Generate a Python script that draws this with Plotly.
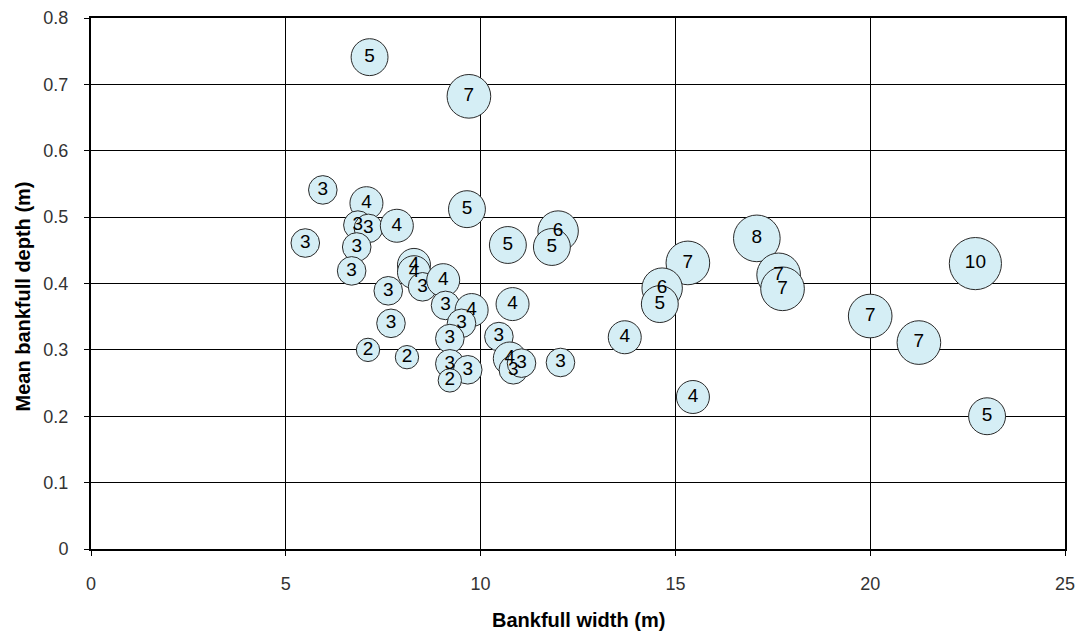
import plotly.graph_objects as go

# Bankfull width (m)
width_m = [7.15, 9.7, 5.95, 7.07, 6.85, 7.12, 7.85, 5.5, 6.82, 6.69,
           9.65, 7.63, 8.29, 8.29, 8.51, 9.04, 9.10, 9.77, 9.51, 9.21,
           9.21, 9.67, 9.21, 7.7, 7.11, 8.11, 10.7, 11.99, 11.83, 10.82,
           10.47, 10.75, 10.84, 11.05, 12.05, 13.7, 15.32, 14.66, 14.6, 15.45,
           17.09, 17.65, 17.75, 20.0, 21.25, 22.7, 23.0]
# Mean bankfull depth (m)
depth_m = [0.741, 0.682, 0.541, 0.521, 0.488, 0.483, 0.487, 0.461, 0.455, 0.419,
           0.512, 0.389, 0.428, 0.417, 0.395, 0.405, 0.367, 0.36, 0.34, 0.317,
           0.279, 0.27, 0.254, 0.34, 0.30, 0.289, 0.458, 0.479, 0.455, 0.369,
           0.32, 0.287, 0.27, 0.28, 0.281, 0.319, 0.431, 0.393, 0.369, 0.229,
           0.468, 0.413, 0.392, 0.351, 0.311, 0.43, 0.20]
# Bubble value (label)
count = [5, 7, 3, 4, 3, 3, 4, 3, 3, 3,
         5, 3, 4, 4, 3, 4, 3, 4, 3, 3,
         3, 3, 2, 3, 2, 2, 5, 6, 5, 4,
         3, 4, 3, 3, 3, 4, 7, 6, 5, 4,
         8, 7, 7, 7, 7, 10, 5]

x_ticks = [0, 5, 10, 15, 20, 25]
y_ticks = [0, 0.1, 0.2, 0.3, 0.4, 0.5, 0.6, 0.7, 0.8]
x_title = "Bankfull width (m)"
y_title = "Mean bankfull depth (m)"

font_family = "Liberation Sans, Arial, sans-serif"

# bubble area proportional to value -> diameter proportional to sqrt(value)
bubble_diam = [c ** 0.5 for c in count]

fig = go.Figure()
fig.add_trace(go.Scatter(
    x=width_m, y=depth_m, mode="markers+text",
    text=[str(c) for c in count],
    textposition="middle center",
    textfont=dict(family=font_family, size=19, color="#000000"),
    marker=dict(size=bubble_diam, sizemode="diameter", sizeref=1 / 16.5,
                color="#D5EEF5", opacity=1,
                line=dict(color="#2a2a2a", width=1)),
    showlegend=False, cliponaxis=False,
))

fig.update_layout(
    width=1076, height=633,
    margin=dict(l=91, r=11, t=18, b=84),
    paper_bgcolor="white", plot_bgcolor="white",
    font=dict(family=font_family, size=18, color="#333333"),
    annotations=[
        dict(text=f"<b>{x_title}</b>", xref="paper", yref="paper", x=0.5, y=0,
             xanchor="center", yanchor="middle", yshift=-71, showarrow=False,
             font=dict(family=font_family, size=20, color="#000000")),
        dict(text=f"<b>{y_title}</b>", xref="paper", yref="paper", x=0, y=0.5,
             xanchor="center", yanchor="middle", xshift=-69, yshift=-13,
             textangle=-90, showarrow=False,
             font=dict(family=font_family, size=20, color="#000000")),
    ],
)
fig.update_xaxes(
    range=[0, 25], tickvals=x_ticks, ticktext=[str(v) for v in x_ticks],
    showgrid=True, gridcolor="#000000", gridwidth=1,
    showline=True, linecolor="#000000", linewidth=2, mirror=True,
    ticks="outside", ticklen=5, tickcolor="#000000", tickwidth=1,
    ticklabelstandoff=12, zeroline=False, automargin=False,
    tickfont=dict(family=font_family, size=18, color="#333333"),
)
fig.update_yaxes(
    range=[0, 0.8], tickvals=y_ticks, ticktext=[("0" if v == 0 else f"{v:.1f}") for v in y_ticks],
    showgrid=True, gridcolor="#000000", gridwidth=1,
    showline=True, linecolor="#000000", linewidth=2, mirror=True,
    ticks="outside", ticklen=5, tickcolor="#000000", tickwidth=1,
    ticklabelstandoff=12, zeroline=False, automargin=False,
    tickfont=dict(family=font_family, size=18, color="#333333"),
)

fig.write_html("out.html",
               config={"displayModeBar": False},
               post_script="document.body.style.margin='0';document.body.style.overflow='hidden';")
